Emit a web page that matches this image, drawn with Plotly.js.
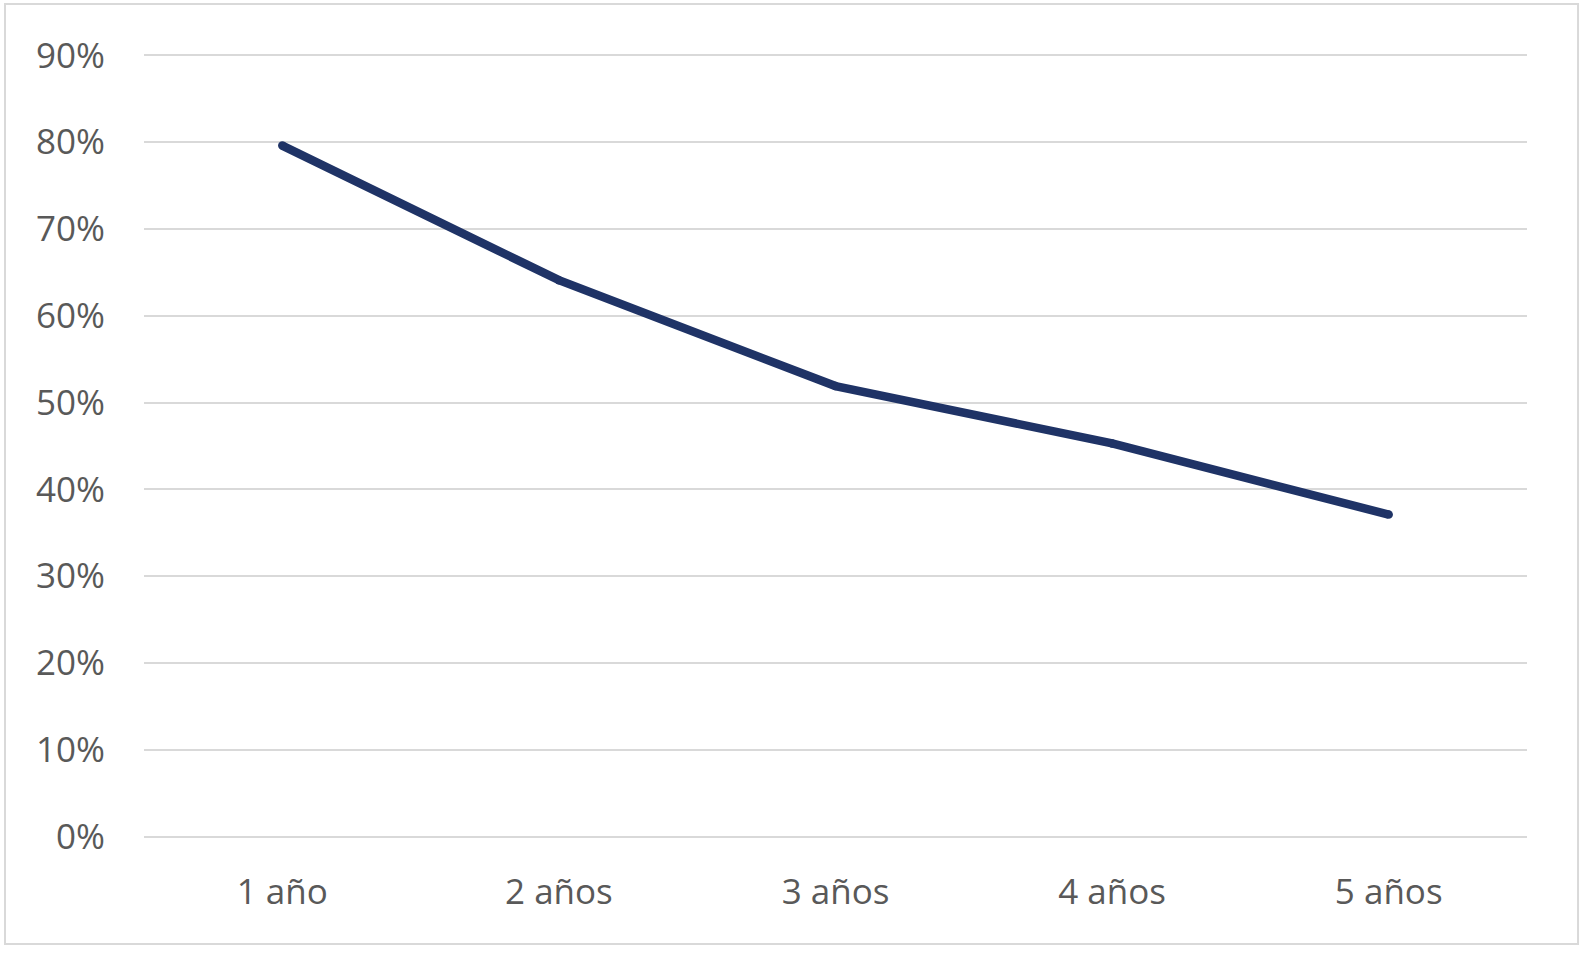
<!DOCTYPE html>
<html>
<head>
<meta charset="utf-8">
<script src="https://cdn.plot.ly/plotly-3.0.1.min.js"></script>
<style>
html,body{margin:0;padding:0;background:#fff;}
#chart{width:1585px;height:953px;}
</style>
</head>
<body>
<div id="chart"></div>
<script>
const categories = ["1 año", "2 años", "3 años", "4 años", "5 años"];
const values = [0.796, 0.641, 0.519, 0.453, 0.371];
const yTickValues = [0, 0.1, 0.2, 0.3, 0.4, 0.5, 0.6, 0.7, 0.8, 0.9];
const yTickLabels = ["0%", "10%", "20%", "30%", "40%", "50%", "60%", "70%", "80%", "90%"];

const lineColor = "#1f3366";
const textColor = "#595959";
const gridColor = "#d9d9d9";

const trace = {
  x: categories,
  y: values,
  type: "scatter",
  mode: "lines+markers",
  line: {color: lineColor, width: 8.5},
  marker: {color: lineColor, size: 8.5},
  hoverinfo: "skip",
  showlegend: false
};

const layout = {
  width: 1585,
  height: 953,
  margin: {l: 144, r: 58, t: 54, b: 115, pad: 0},
  paper_bgcolor: "#ffffff",
  plot_bgcolor: "#ffffff",
  font: {family: "Open Sans, sans-serif", size: 35, color: textColor},
  xaxis: {
    type: "category",
    range: [-0.5, 4.5],
    showgrid: false,
    zeroline: false,
    showline: false,
    ticks: "",
    ticklabelstandoff: 30,
    tickfont: {size: 35, color: textColor},
    fixedrange: true
  },
  yaxis: {
    range: [-0.0015, 0.9015],
    tickvals: yTickValues,
    ticktext: yTickLabels,
    showgrid: true,
    gridcolor: gridColor,
    gridwidth: 2,
    zeroline: false,
    showline: false,
    ticks: "",
    ticklabelstandoff: 38,
    tickfont: {size: 35, color: textColor},
    fixedrange: true
  },
  shapes: [{
    type: "rect",
    xref: "paper", yref: "paper",
    x0: -0.1005, x1: 1.0369,
    y0: -0.1351, y1: 1.0639,
    line: {color: gridColor, width: 2},
    fillcolor: "rgba(0,0,0,0)",
    layer: "below"
  }]
};

Plotly.newPlot("chart", [trace], layout, {displayModeBar: false, staticPlot: true});
</script>
</body>
</html>
